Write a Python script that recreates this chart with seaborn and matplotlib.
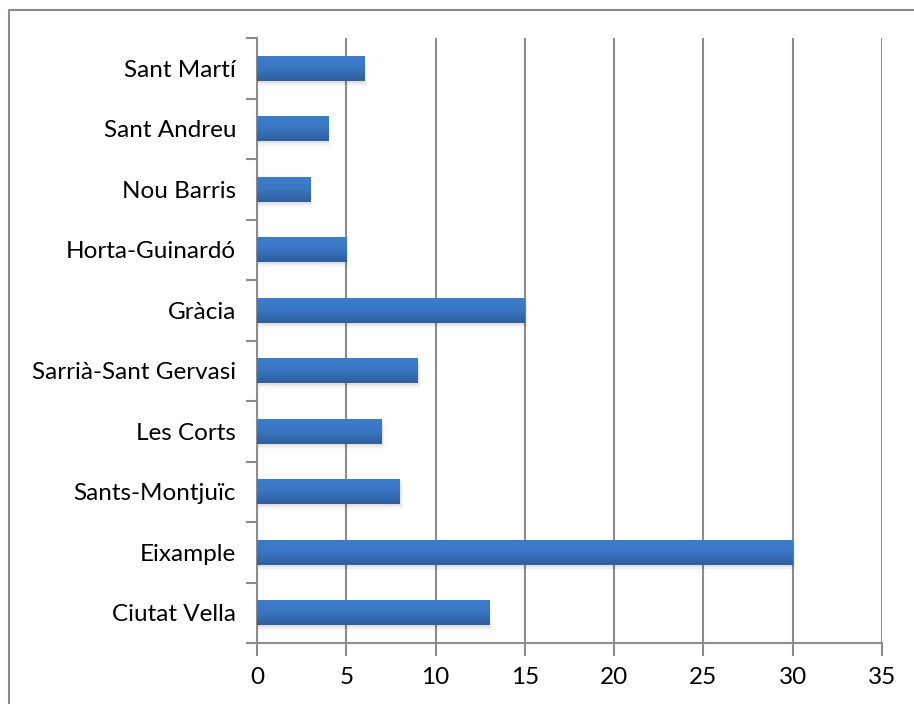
"""
Barcelona districts - horizontal bar chart (Excel look)
"""

import numpy as np
import matplotlib.pyplot as plt
from matplotlib.lines import Line2D
import seaborn as sns

# ---------------------------------------------------------------------------
# DATA
# ---------------------------------------------------------------------------
districts = [
    "Sant Martí", "Sant Andreu", "Nou Barris", "Horta-Guinardó", "Gràcia",
    "Sarrià-Sant Gervasi", "Les Corts", "Sants-Montjuïc", "Eixample",
    "Ciutat Vella",
]
values = [6, 4, 3, 5, 15, 9, 7, 8, 30, 13]
x_ticks = [0, 5, 10, 15, 20, 25, 30, 35]

sns.set_theme(style="white")
plt.rcParams["font.family"] = ["Lato", "DejaVu Sans"]

fig = plt.figure(figsize=(9.14, 7.04), dpi=100)
ax = fig.add_axes([0.2812, 0.0866, 0.965 - 0.2812, 0.946 - 0.0866])

sns.barplot(x=values, y=districts, orient="h", color="#3a78c6",
            width=0.42, ax=ax, zorder=3)

# vertical gradient on each bar (light top, darker bottom)
grad = np.linspace(0, 1, 64).reshape(-1, 1)
cmap = sns.blend_palette(["#3d7dcc", "#3a76c2", "#2e5e9c"], as_cmap=True)
for p in ax.patches:
    x0, y0 = p.get_x(), p.get_y()
    w, h = p.get_width(), p.get_height()
    # soft shadow below the bar
    for k, a in enumerate([0.06, 0.04, 0.02]):
        d = 0.03 * (k + 1)
        ax.add_patch(plt.Rectangle((x0, y0 + d), w + 0.05 * (k + 1), h,
                                   color="#000000", alpha=a, zorder=2, lw=0))
    im = ax.imshow(grad, extent=(x0, x0 + w, y0 + h, y0), cmap=cmap,
                   aspect="auto", zorder=4)
    im.set_clip_path(p)
    p.set_edgecolor("none")

ax.set_xlim(0, 35)
ax.set_ylim(len(districts) - 0.5, -0.5)
ax.set_xticks(x_ticks)
ax.set_xticklabels([str(t) for t in x_ticks])

# ticks at category boundaries on y, gridlines on x
ax.set_yticks(np.arange(-0.5, len(districts), 1.0), minor=True)
ax.tick_params(axis="y", which="major", length=0, pad=15, labelsize=17.5,
               labelcolor="#000000")
ax.tick_params(axis="y", which="minor", left=True, length=8, width=1.5,
               color="#8c8c8c")
ax.tick_params(axis="x", which="major", bottom=True, length=9, width=1.5,
               color="#8c8c8c", labelsize=17.5, labelcolor="#000000", pad=8)

ax.grid(axis="x", color="#8c8c8c", linewidth=1.5, zorder=0)
ax.set_axisbelow(True)
ax.set_xlabel("")
ax.set_ylabel("")

for s in ["top", "right"]:
    ax.spines[s].set_visible(False)
for s in ["left", "bottom"]:
    ax.spines[s].set_color("#8c8c8c")
    ax.spines[s].set_linewidth(1.5)

# outer chart border (top and left visible)
fig.add_artist(Line2D([9 / 914, 1], [1 - 10 / 704, 1 - 10 / 704],
                      color="#8c8c8c", lw=1.5))
fig.add_artist(Line2D([9 / 914, 9 / 914], [0, 1 - 10 / 704],
                      color="#8c8c8c", lw=1.5))

fig.savefig("out.png", dpi=100)
